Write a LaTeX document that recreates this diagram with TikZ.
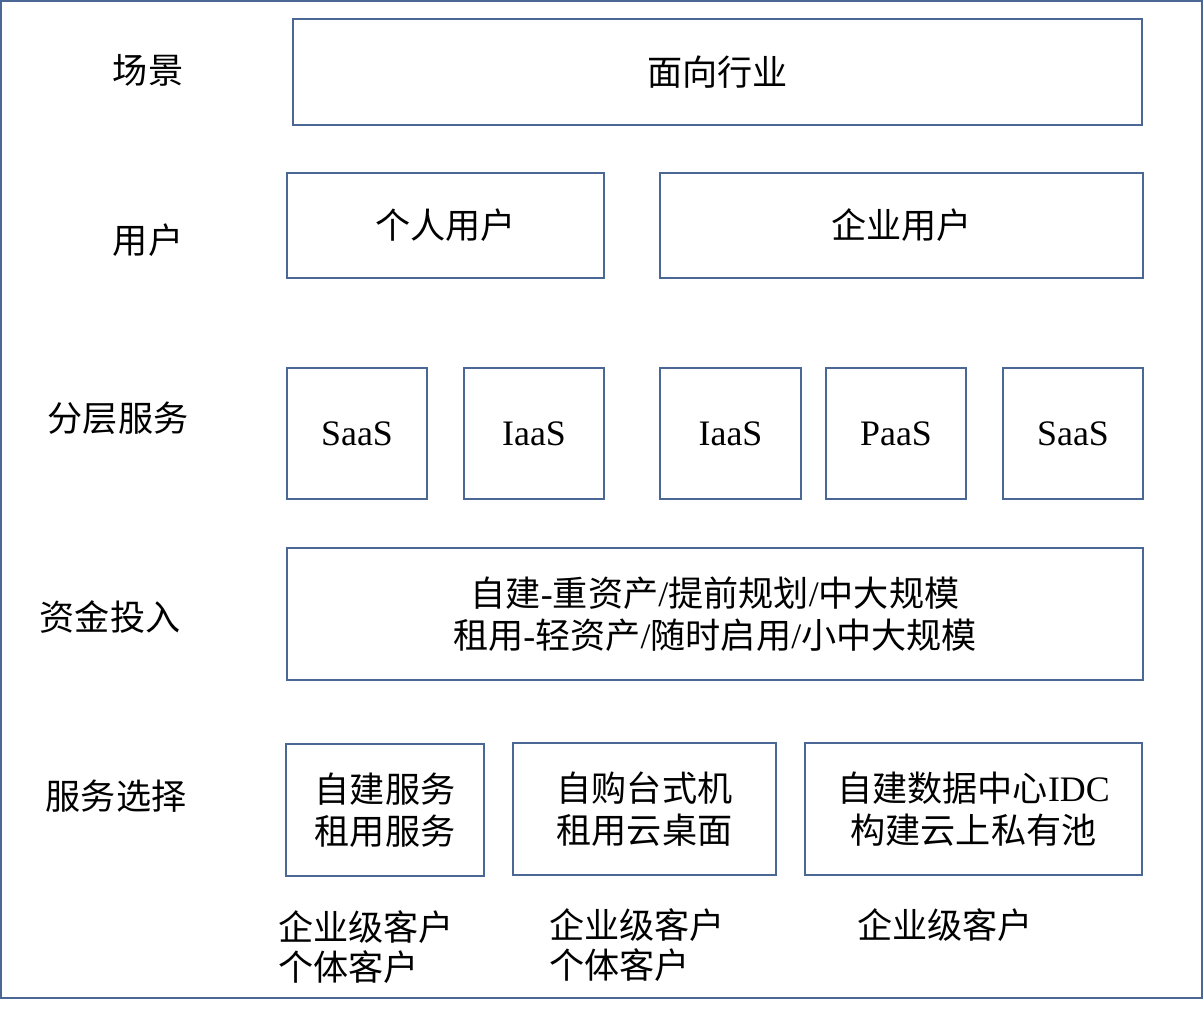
\documentclass[tikz,border=0pt]{standalone}
\usepackage{fontspec}
\setmainfont{Liberation Serif}
\newfontfamily\cjk{Noto Sans CJK SC}[Scale=0.98]
\definecolor{bl}{HTML}{4A6795}
\tikzset{box/.style={draw=bl,line width=1.3pt,inner sep=0pt,align=center,font=\fontsize{25.5}{30}\selectfont},
lab/.style={inner sep=0pt,align=left,font=\fontsize{25.5}{29}\selectfont\cjk}}
\newcommand\bx[6]{\node[box,minimum width={(#4-#2)*0.025cm},minimum height={(#5-#3)*0.025cm}] (#1) at ({(#2+#4)/2},{(#3+#5)/2}) {#6};}
\begin{document}
\begin{tikzpicture}[x=0.025cm,y=-0.025cm]
\useasboundingbox (0,0) rectangle (1204,1012);
\draw[bl,line width=1.3pt] (1,1) rectangle (1202,998);
\bx{s}{293}{19}{1142}{125}{\cjk 面向行业}
\bx{u1}{287}{173}{604}{278}{\cjk 个人用户}
\bx{u2}{660}{173}{1143}{278}{\cjk 企业用户}
\bx{l1}{287}{368}{427}{499}{SaaS}
\bx{l2}{464}{368}{604}{499}{IaaS}
\bx{l3}{660}{368}{801}{499}{IaaS}
\bx{l4}{826}{368}{966}{499}{PaaS}
\bx{l5}{1003}{368}{1143}{499}{SaaS}
\bx{f}{287}{548}{1143}{680}{{\cjk 自建}-{\cjk 重资产}/{\cjk 提前规划}/{\cjk 中大规模}\\{\cjk 租用}-{\cjk 轻资产}/{\cjk 随时启用}/{\cjk 小中大规模}}
\bx{c1}{286}{744}{484}{876}{\cjk 自建服务\\\cjk 租用服务}
\bx{c2}{513}{743}{776}{875}{\cjk 自购台式机\\\cjk 租用云桌面}
\bx{c3}{805}{743}{1142}{875}{{\cjk 自建数据中心}IDC\\{\cjk 构建云上私有池}}
\node[lab] (t1) at (148,70) {场景};
\node[lab] (t2) at (148,240) {用户};
\node[lab] (t3) at (118,418) {分层服务};
\node[lab] (t4) at (110,617) {资金投入};
\node[lab] (t5) at (116,796) {服务选择};
\node[lab,anchor=west] (b1) at (278,947) {企业级客户\\个体客户};
\node[lab,anchor=west] (b2) at (549,945) {企业级客户\\个体客户};
\node[lab,anchor=west] (b3) at (857,925) {企业级客户};
\end{tikzpicture}
\end{document}
